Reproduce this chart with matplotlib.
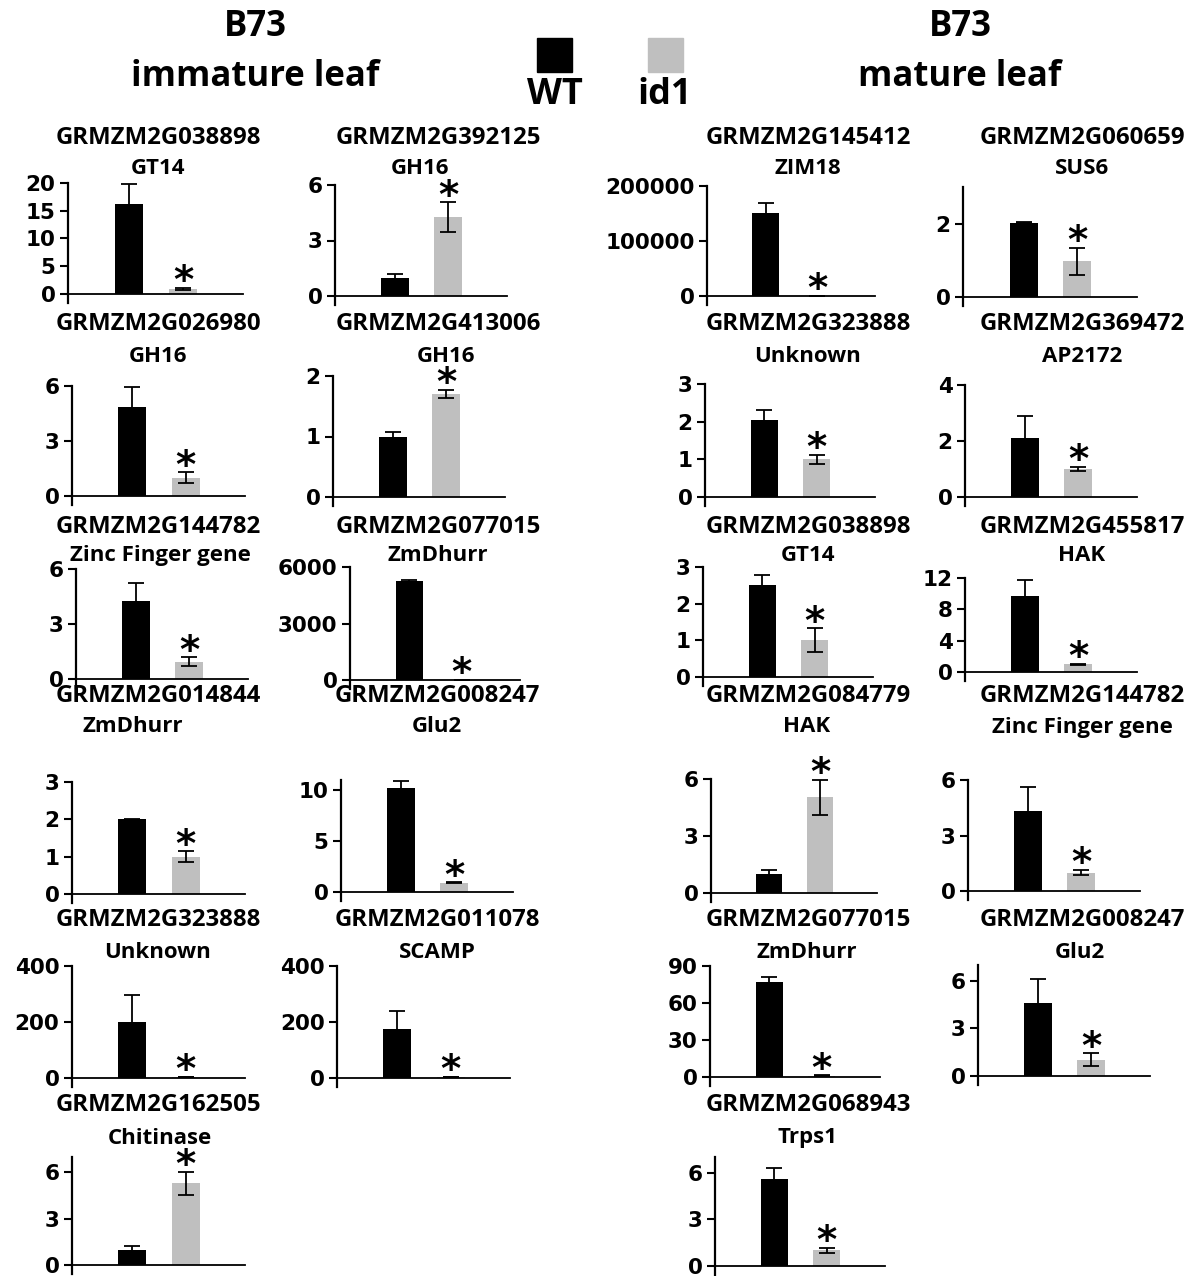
import matplotlib
matplotlib.use("Agg")
import matplotlib.pyplot as plt
from matplotlib.ticker import FixedLocator, FixedFormatter

# ---------------- data ----------------
gene_ids = ["GRMZM2G038898", "GRMZM2G026980", "GRMZM2G144782", "GRMZM2G014844",
            "GRMZM2G323888", "GRMZM2G162505",
            "GRMZM2G392125", "GRMZM2G413006", "GRMZM2G077015", "GRMZM2G008247",
            "GRMZM2G011078",
            "GRMZM2G145412", "GRMZM2G323888", "GRMZM2G038898", "GRMZM2G084779",
            "GRMZM2G077015", "GRMZM2G068943",
            "GRMZM2G060659", "GRMZM2G369472", "GRMZM2G455817", "GRMZM2G144782",
            "GRMZM2G008247"]
gene_names = ["GT14", "GH16", "Zinc Finger gene", "ZmDhurr", "Unknown", "Chitinase",
              "GH16", "GH16", "ZmDhurr", "Glu2", "SCAMP",
              "ZIM18", "Unknown", "GT14", "HAK", "ZmDhurr", "Trps1",
              "SUS6", "AP2172", "HAK", "Zinc Finger gene", "Glu2"]
wt_mean = [16.2, 4.85, 4.25, 2.0, 200, 1.0,
           1.0, 1.0, 5250, 10.2, 175,
           151000, 2.05, 2.5, 1.0, 77, 5.6,
           2.03, 2.1, 9.7, 4.35, 4.6]
wt_err = [3.7, 1.1, 1.0, 0.02, 98, 0.2,
          0.17, 0.07, 40, 0.7, 65,
          18000, 0.27, 0.28, 0.2, 4, 0.7,
          0.02, 0.8, 2.0, 1.25, 1.5]
id1_mean = [0.95, 1.0, 0.95, 1.0, 3, 5.3,
            4.27, 1.7, 5, 0.92, 3,
            500, 1.0, 1.0, 5.05, 1.0, 1.0,
            0.97, 1.0, 1.0, 1.0, 1.02]
id1_err = [0.18, 0.3, 0.25, 0.15, 1, 0.75,
           0.8, 0.07, 2, 0.05, 1,
           200, 0.12, 0.33, 0.92, 0.5, 0.18,
           0.38, 0.08, 0.05, 0.15, 0.4]
significant = ["id1"] * 22
y_max = [20, 6, 6, 3, 400, 7,
         6, 2, 6000, 11, 400,
         200000, 3, 3, 6, 90, 7,
         3, 4, 12, 6, 7]
y_ticks = [[0, 5, 10, 15, 20], [0, 3, 6], [0, 3, 6], [0, 1, 2, 3], [0, 200, 400], [0, 3, 6],
           [0, 3, 6], [0, 1, 2], [0, 3000, 6000], [0, 5, 10], [0, 200, 400],
           [0, 100000, 200000], [0, 1, 2, 3], [0, 1, 2, 3], [0, 3, 6], [0, 30, 60, 90], [0, 3, 6],
           [0, 2], [0, 2, 4], [0, 4, 8, 12], [0, 3, 6], [0, 3, 6]]
groups = ["WT", "id1"]
group_colors = ["#000000", "#BFBFBF"]

# ---------------- layout (pixels) ----------------
W, H = 1186, 1276
# left, right, zero-line y, top y (y of y_max)
axes_px = [(68, 243, 294, 183), (72, 245, 496, 386), (76, 248, 679, 569),
           (72, 245, 894, 782), (72, 245, 1078, 966), (72, 245, 1265, 1157),
           (335, 507, 296, 185), (333, 505, 497, 376), (350, 520, 680, 567),
           (341, 513, 892, 780), (337, 510, 1078, 966),
           (707, 875, 296, 186), (705, 875, 497, 384), (703, 873, 677, 567),
           (711, 877, 893, 779), (710, 880, 1077, 966), (715, 885, 1266, 1157),
           (963, 1137, 297, 187), (965, 1137, 497, 385), (965, 1137, 672, 578),
           (968, 1140, 891, 780), (978, 1150, 1076, 965)]
# title center x, line1 y, line2 y, line2 x
title_px = [(158, 138, 168, 158), (158, 324, 356, 158), (158, 527, 556, 160),
            (158, 696, 726, 133), (158, 920, 953, 158), (158, 1105, 1138, 160),
            (438, 138, 168, 420), (438, 324, 356, 446), (438, 527, 556, 438),
            (437, 696, 726, 437), (437, 920, 953, 437),
            (808, 138, 168, 808), (808, 324, 356, 808), (808, 527, 556, 808),
            (808, 696, 726, 807), (808, 920, 953, 807), (808, 1105, 1138, 807),
            (1082, 138, 168, 1082), (1082, 324, 356, 1082), (1082, 527, 556, 1082),
            (1082, 696, 728, 1082), (1082, 920, 953, 1080)]

TITLE_FONT = "Open Sans"
TICK_FONT = "DejaVu Sans"

fig = plt.figure(figsize=(W / 100, H / 100), dpi=100)
fig.patch.set_facecolor("white")

def fx(x):
    return x / W

def fy(y):
    return 1 - y / H

EXT = 9  # pixels the y-axis extends below zero
x_left, x_right = -1.13, 2.11
bar_w = 0.52

for i in range(len(gene_ids)):
    l, r, z, t = axes_px[i]
    ax = fig.add_axes([fx(l), fy(z + EXT), (r - l) / W, (z + EXT - t) / H])
    ym = y_max[i]
    ax.set_ylim(-ym * EXT / (z - t), ym)
    ax.set_xlim(x_left, x_right)
    means = [wt_mean[i], id1_mean[i]]
    errs = [wt_err[i], id1_err[i]]
    xs = list(range(len(groups)))
    ax.bar(xs, means, width=bar_w, color=group_colors, edgecolor="none", zorder=2)
    ax.errorbar(xs, means, yerr=errs, fmt="none", ecolor="black",
                elinewidth=1.3, capsize=6, capthick=1.3, zorder=3)
    si = groups.index(significant[i])
    ax.annotate("*", xy=(xs[si], means[si] + errs[si]), xytext=(0, -4),
                textcoords="offset points", ha="center", va="baseline",
                fontsize=28, fontweight="bold", family="DejaVu Sans", zorder=4)
    for s in ["top", "right"]:
        ax.spines[s].set_visible(False)
    ax.spines["bottom"].set_position(("data", 0))
    ax.spines["left"].set_linewidth(1.6)
    ax.spines["bottom"].set_linewidth(1.3)
    ax.set_xticks([])
    ax.yaxis.set_major_locator(FixedLocator(y_ticks[i]))
    ax.yaxis.set_major_formatter(FixedFormatter([str(v) for v in y_ticks[i]]))
    ax.tick_params(axis="y", direction="out", length=6, width=1.5, pad=3)
    for lab in ax.get_yticklabels():
        lab.set_fontsize(15.5)
        lab.set_fontweight("bold")
        lab.set_family(TICK_FONT)
    ax.patch.set_alpha(0)

    tx, y1, y2, tx2 = title_px[i]
    fig.text(fx(tx), fy(y1), gene_ids[i], ha="center", va="center",
             fontsize=17.3, fontweight="bold", family=TITLE_FONT)
    fig.text(fx(tx2), fy(y2), gene_names[i], ha="center", va="center",
             fontsize=16, fontweight="bold", family=TITLE_FONT)

# headers
for cx, lines in [(255, ["B73", "immature leaf"]), (960, ["B73", "mature leaf"])]:
    fig.text(fx(cx), fy(27), lines[0], ha="center", va="center",
             fontsize=25, fontweight="bold", family=TITLE_FONT)
    fig.text(fx(cx), fy(77), lines[1], ha="center", va="center",
             fontsize=25, fontweight="bold", family=TITLE_FONT)

# legend
for (x0, lab_x, label, col) in [(537, 555, groups[0], group_colors[0]),
                                (648, 665, groups[1], group_colors[1])]:
    fig.patches.append(plt.Rectangle((fx(x0), fy(72)), 35 / W, 34 / H,
                                     transform=fig.transFigure, color=col))
    fig.text(fx(lab_x), fy(95), label, ha="center", va="center",
             fontsize=26, fontweight="bold", family=TITLE_FONT)

fig.savefig("out.png", dpi=100, facecolor="white")
